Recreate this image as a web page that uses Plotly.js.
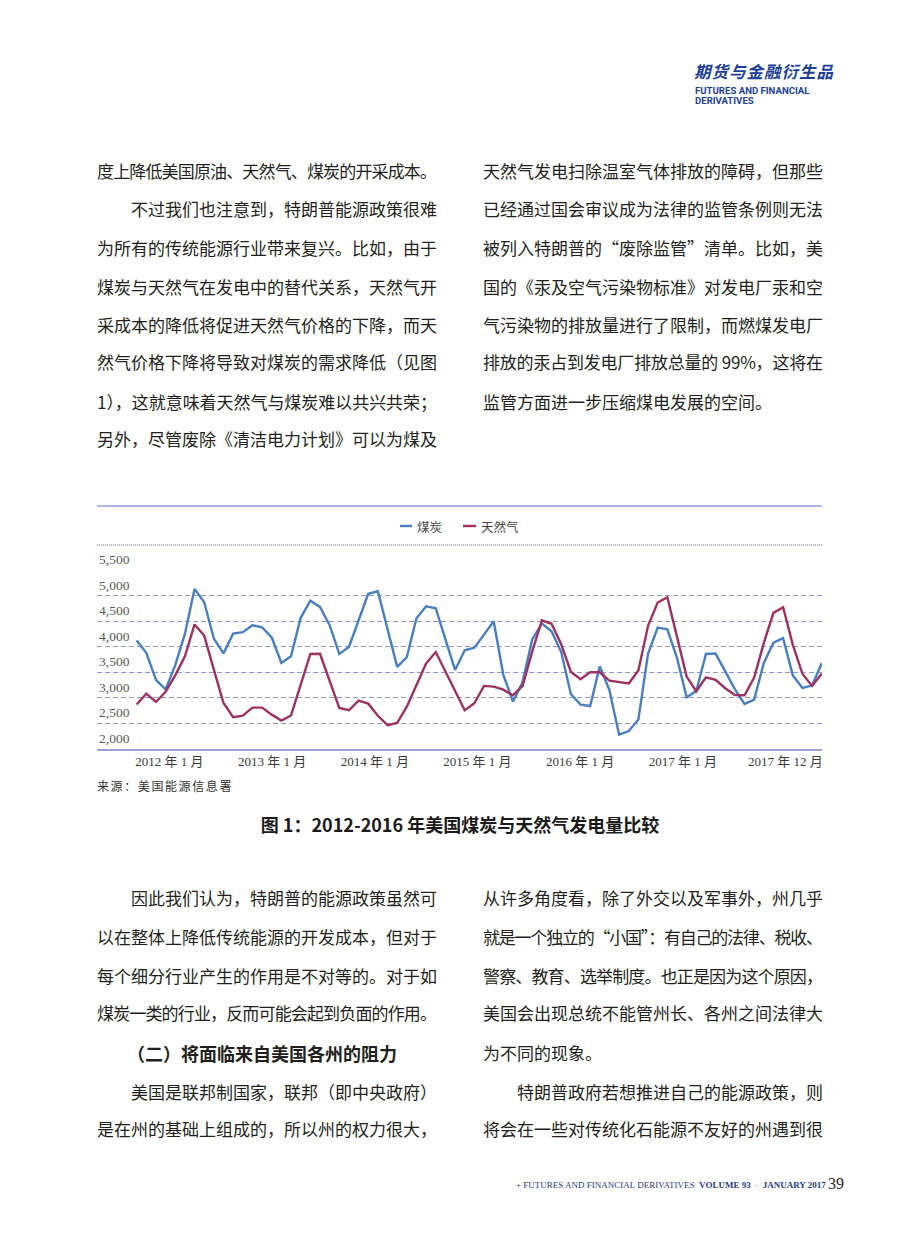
<!DOCTYPE html>
<html>
<head>
<meta charset="utf-8">
<script src="https://cdn.plot.ly/plotly-3.0.1.min.js"></script>
<style>
  html, body { margin:0; padding:0; background:#fff; }
  body { width:920px; height:1240px; position:relative; overflow:hidden; }
  #chart { position:absolute; left:0; top:0; width:920px; height:1240px; }
  .t { position:absolute; font-family:"Noto Sans CJK SC","Noto Sans",sans-serif; font-size:17px; line-height:20px; color:#231f20; white-space:nowrap; z-index:5; }
  .b { font-weight:bold; }
</style>
</head>
<body>
<div id="chart"></div>
<div id="texts"></div>
<script>
// ---------- chart data ----------
const years = [2012, 2013, 2014, 2015, 2016, 2017];
const months = [];
years.forEach(y => { for (let m = 1; m <= 12; m++) months.push(y + '-' + (m < 10 ? '0' + m : m)); });

const seriesNames = ['煤炭', '天然气'];

const coal = [
  4120, 3880, 3350, 3165, 3640, 4250, 5130, 4870, 4160, 3870, 4255, 4285,
  4420, 4380, 4180, 3683, 3813, 4565, 4900, 4778, 4420, 3860, 3995, 4498,
  5035, 5085, 4335, 3605, 3794, 4556, 4791, 4752, 4145, 3545, 3930, 3980,
  4237, 4498, 3455, 2925, 3310, 4145, 4455, 4302, 3895, 3075, 2868, 2840,
  3618, 3150, 2281, 2352, 2575, 3860, 4372, 4340, 3781, 3011, 3135, 3859,
  3866, 3520, 3170, 2881, 2966, 3683, 4080, 4165, 3445, 3194, 3240, 3676
];
const gas = [
  2870, 3083, 2920, 3120, 3440, 3813, 4435, 4218, 3553, 2900, 2620, 2653,
  2809, 2809, 2672, 2555, 2656, 3240, 3859, 3862, 3324, 2803, 2757, 2946,
  2887, 2650, 2467, 2510, 2828, 3265, 3674, 3895, 3505, 3120, 2758, 2895,
  3234, 3220, 3161, 3050, 3234, 3910, 4515, 4449, 4048, 3510, 3364, 3500,
  3500, 3337, 3304, 3282, 3535, 4410, 4863, 4967, 4198, 3416, 3129, 3402,
  3354, 3188, 3057, 3050, 3399, 4075, 4661, 4772, 4040, 3471, 3234, 3474
];

const xTickLabels = ['2012 年 1 月', '2013 年 1 月', '2014 年 1 月', '2015 年 1 月', '2016 年 1 月', '2017 年 1 月', '2017 年 12 月'];
const yTicks = [2000, 2500, 3000, 3500, 4000, 4500, 5000, 5500];

// ---------- chart ----------
const xs = months.map((m, i) => i);
const colors = ['#4a7ebf', '#9d3161'];
const traces = [coal, gas].map((vals, k) => ({
  type: 'scatter', mode: 'lines', name: seriesNames[k],
  x: xs, y: vals, text: months, hovertemplate: '%{text}: %{y}<extra>' + seriesNames[k] + '</extra>',
  line: { color: colors[k], width: 2.4 }, showlegend: false
}));

const tickPos = [3.4, 14.04, 24.68, 35.32, 45.96, 56.6, 67.24];
const serif = 'Liberation Serif, "Noto Sans CJK SC", serif';

// paper coords helpers (plot area: x 97..822, y 570..749)
const px = v => (v - 97) / 725;
const py = v => (749 - v) / 179;

const yLabelAnns = yTicks.map(v => ({
  xref: 'paper', yref: 'y', x: 0, y: v, xanchor: 'left', yanchor: 'bottom', yshift: 1,
  showarrow: false, text: v.toLocaleString('en-US'),
  font: { family: serif, size: 13.5, color: '#595959' }
}));

const layout = {
  width: 920, height: 1240,
  margin: { l: 97, r: 98, t: 570, b: 491, pad: 0 },
  paper_bgcolor: 'rgba(0,0,0,0)', plot_bgcolor: 'rgba(0,0,0,0)',
  xaxis: {
    range: [-4.11, 71.03], tickmode: 'array', tickvals: tickPos, ticktext: xTickLabels,
    ticks: '', showgrid: false, zeroline: false, showline: true,
    linecolor: '#9aa4d4', linewidth: 1.6,
    tickfont: { family: serif, size: 13, color: '#3a3a3a' }
  },
  yaxis: {
    range: [2000, 5500], tickmode: 'array', tickvals: yTicks,
    ticks: '', showgrid: true, gridcolor: '#8e98cf', gridwidth: 1, griddash: '5px,3px',
    zeroline: false, showline: false, showticklabels: false
  },
  shapes: [
    { type: 'line', xref: 'paper', yref: 'paper', x0: 0, x1: 1, y0: py(506), y1: py(506), line: { color: '#8fa0cf', width: 1.6 } },
    { type: 'line', xref: 'paper', yref: 'paper', x0: 0, x1: 1, y0: py(545), y1: py(545), line: { color: '#9f9fb0', width: 1.4, dash: '1px,1px' } },
    { type: 'line', xref: 'paper', yref: 'paper', x0: px(400), x1: px(412), y0: py(526), y1: py(526), line: { color: colors[0], width: 2.4 } },
    { type: 'line', xref: 'paper', yref: 'paper', x0: px(463), x1: px(476), y0: py(526), y1: py(526), line: { color: colors[1], width: 2.4 } }
  ],
  annotations: [
    { xref: 'paper', yref: 'paper', x: px(415), y: py(526), xanchor: 'left', yanchor: 'middle', showarrow: false,
      text: seriesNames[0], font: { family: '"Noto Sans CJK SC"', size: 12.5, color: '#444' } },
    { xref: 'paper', yref: 'paper', x: px(479), y: py(526), xanchor: 'left', yanchor: 'middle', showarrow: false,
      text: seriesNames[1], font: { family: '"Noto Sans CJK SC"', size: 12.5, color: '#444' } }
  ].concat(yLabelAnns),
  showlegend: false
};

Plotly.newPlot('chart', traces, layout, { displayModeBar: false, staticPlot: true });

// ---------- page text ----------
const L = 97, R = 483, W = 340, IND = 34;
const lines = [
  // top left column
  [L, 170.7, W, '度上降低美国原油、天然气、煤炭的开采成本。', 'j'],
  [L + IND, 209.3, W - IND, '不过我们也注意到，特朗普能源政策很难', 'j'],
  [L, 248.3, W, '为所有的传统能源行业带来复兴。比如，由于', 'j'],
  [L, 286.7, W, '煤炭与天然气在发电中的替代关系，天然气开', 'j'],
  [L, 325, W, '采成本的降低将促进天然气价格的下降，而天', 'j'],
  [L, 362.3, W, '然气价格下降将导致对煤炭的需求降低（见图', 'j'],
  [L, 401.7, W, '1），这就意味着天然气与煤炭难以共兴共荣；', 'j'],
  [L, 439.3, W, '另外，尽管废除《清洁电力计划》可以为煤及', 'j'],
  // top right column
  [R, 170.7, W, '天然气发电扫除温室气体排放的障碍，但那些', 'j'],
  [R, 209.3, W, '已经通过国会审议成为法律的监管条例则无法', 'j'],
  [R, 248.3, W, '被列入特朗普的“废除监管”清单。比如，美', 'j'],
  [R, 286.7, W, '国的《汞及空气污染物标准》对发电厂汞和空', 'j'],
  [R, 325, W, '气污染物的排放量进行了限制，而燃煤发电厂', 'j'],
  [R, 362.3, W, '排放的汞占到发电厂排放总量的 99%，这将在', 'j'],
  [R, 401.7, W, '监管方面进一步压缩煤电发展的空间。', ''],
  // bottom left column
  [L + IND, 898.3, W - IND, '因此我们认为，特朗普的能源政策虽然可', 'j'],
  [L, 936.7, W, '以在整体上降低传统能源的开发成本，但对于', 'j'],
  [L, 976, W, '每个细分行业产生的作用是不对等的。对于如', 'j'],
  [L, 1013.3, W, '煤炭一类的行业，反而可能会起到负面的作用。', 'j'],
  [L + 30, 1053.3, 280, '（二）将面临来自美国各州的阻力', 'b'],
  [L + IND, 1091.7, W - IND, '美国是联邦制国家，联邦（即中央政府）', 'j'],
  [L, 1129.3, W, '是在州的基础上组成的，所以州的权力很大，', 'j'],
  // bottom right column
  [R, 898.3, W, '从许多角度看，除了外交以及军事外，州几乎', 'j'],
  [R, 936.7, W, '就是一个独立的“小国”：有自己的法律、税收、', 'j'],
  [R, 976, W, '警察、教育、选举制度。也正是因为这个原因，', 'j'],
  [R, 1013.3, W, '美国会出现总统不能管州长、各州之间法律大', 'j'],
  [R, 1053.3, W, '为不同的现象。', ''],
  [R + IND, 1091.7, W - IND, '特朗普政府若想推进自己的能源政策，则', 'j'],
  [R, 1129.3, W, '将会在一些对传统化石能源不友好的州遇到很', 'j']
];
const host = document.getElementById('texts');
const fitEls = [];
lines.forEach(([x, y, w, txt, cls]) => {
  const d = document.createElement('div');
  d.className = 't ' + cls;
  d.style.left = x + 'px';
  d.style.top = (y - 10) + 'px';
  if (cls === 'b') { d.style.fontSize = '18px'; }
  d.textContent = txt;
  host.appendChild(d);
  if (cls === 'j') fitEls.push([d, w, txt]);
});
function fitLines() {
  fitEls.forEach(([d, w, txt]) => {
    d.style.letterSpacing = '0px';
    const nat = d.getBoundingClientRect().width;
    const n = Array.from(txt).length;
    const ls = (w - nat) / (n - 1);
    d.style.letterSpacing = ls.toFixed(3) + 'px';
  });
}
fitLines();
if (document.fonts && document.fonts.ready) document.fonts.ready.then(fitLines);

function addText(x, y, txt, css) {
  const d = document.createElement('div');
  d.className = 't';
  d.style.left = x + 'px';
  d.style.top = y + 'px';
  Object.assign(d.style, css || {});
  d.innerHTML = txt;
  host.appendChild(d);
  return d;
}
// source note
addText(97, 778, '来源：美国能源信息署', { fontSize: '12px', letterSpacing: '1.6px', color: '#333', lineHeight: '16px' });
// figure caption
addText(0, 812, '图 1：2012-2016 年美国煤炭与天然气发电量比较', { width: '920px', textAlign: 'center', fontSize: '18px', fontWeight: 'bold', lineHeight: '24px', color: '#1a1a1a' });
// header logo
addText(694, 61, '期货与金融衍生品', { fontSize: '16.5px', fontWeight: 'bold', fontStyle: 'italic', color: '#1e3f96', letterSpacing: '1px', lineHeight: '20px' });
addText(695, 86, 'FUTURES AND FINANCIAL', { fontFamily: 'Roboto, "Noto Sans", sans-serif', fontSize: '9.6px', fontWeight: 'bold', color: '#1e3f96', lineHeight: '10px' });
addText(695, 96, 'DERIVATIVES', { fontFamily: 'Roboto, "Noto Sans", sans-serif', fontSize: '9.6px', fontWeight: 'bold', color: '#1e3f96', lineHeight: '10px' });
// footer
addText(516, 1179, '+ FUTURES AND FINANCIAL DERIVATIVES&nbsp; <b>VOLUME 93</b>&nbsp; · &nbsp;<b>JANUARY 2017</b>', { fontFamily: '"Liberation Serif", serif', fontSize: '9px', color: '#2a3b84', lineHeight: '12px' });
addText(828, 1175, '39', { fontFamily: '"Liberation Serif", serif', fontSize: '16px', color: '#222', lineHeight: '18px' });
</script>
</body>
</html>
